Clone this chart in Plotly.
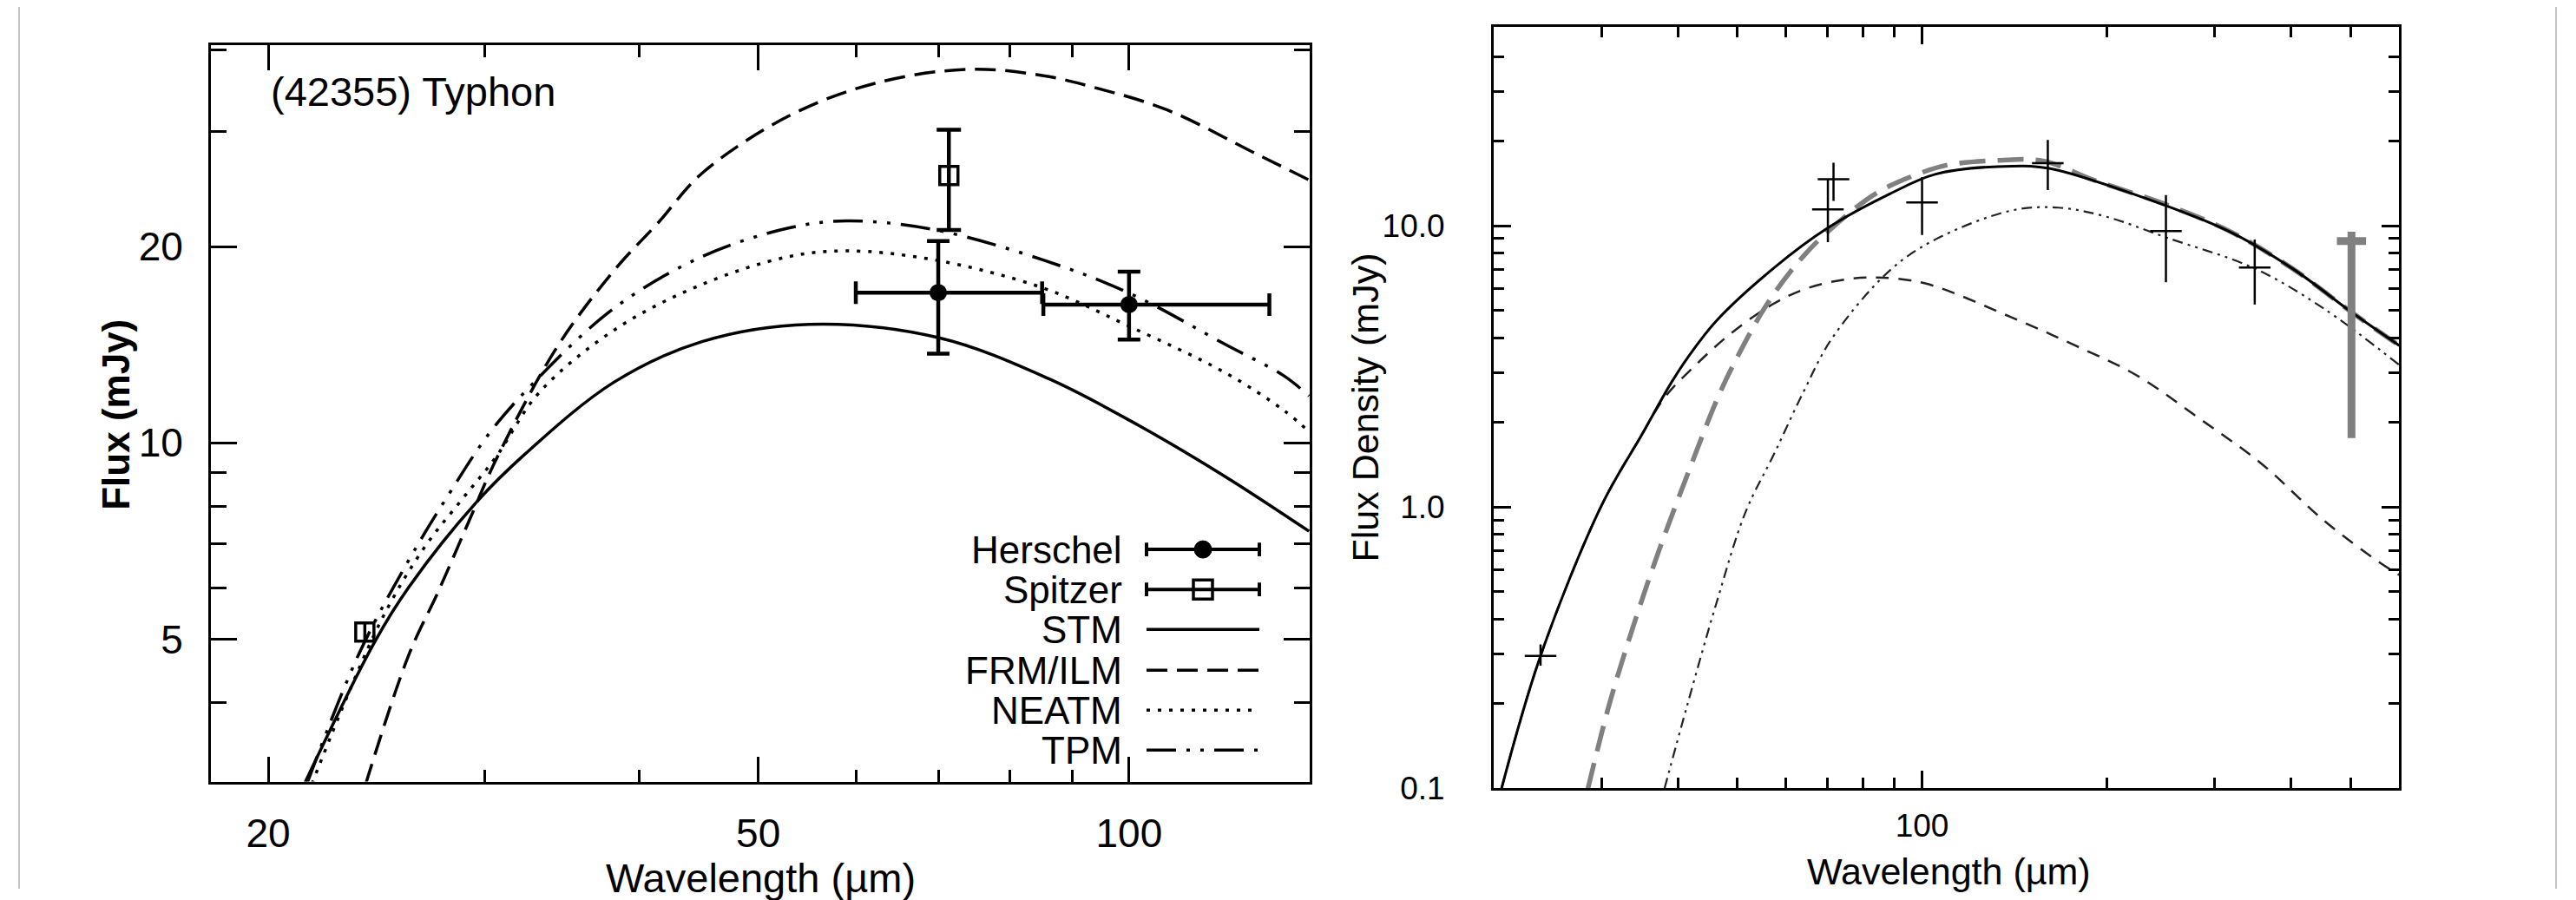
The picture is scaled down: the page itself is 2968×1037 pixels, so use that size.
import plotly.graph_objects as go

W, H = 2968, 1037
FONT = "Liberation Sans, Arial, Helvetica, sans-serif"

# ---------------- Left panel: (42355) Typhon ----------------
stm_wl = [21.4, 24.4, 26.0, 29.5, 32.3, 38.2, 45.0, 55.0, 70.0, 86.0, 101.7, 119.8, 140.0]
stm_f = [3.0, 4.95, 6.0, 8.1, 9.6, 12.4, 14.3, 15.2, 14.5, 12.55, 10.65, 8.87, 7.32]

frm_wl = [24.0, 26.0, 27.5, 29.2, 30.6, 34.3, 38.2, 41.5, 45.0, 52.9, 62.2, 74.0, 85.0, 93.6, 107.4, 126.6, 140.0]
frm_f = [3.0, 4.72, 5.93, 7.69, 9.4, 14.0, 18.4, 21.8, 25.9, 31.7, 35.6, 37.4, 36.6, 35.1, 32.4, 27.8, 25.3]

neatm_wl = [21.7, 24.65, 26.75, 28.7, 30.6, 33.2, 38.2, 45.0, 52.9, 59.0, 69.3, 85.0, 100.0, 119.8, 133.7, 140.0]
neatm_f = [3.0, 5.3, 6.89, 8.17, 9.5, 11.95, 14.9, 17.5, 19.3, 19.7, 19.1, 17.3, 15.1, 12.8, 11.2, 10.4]

tpm_wl = [21.5, 23.7, 26.0, 28.1, 30.3, 32.9, 38.2, 45.0, 52.9, 59.0, 69.3, 85.0, 100.5, 119.8, 133.7, 140.0]
tpm_f = [3.0, 4.75, 6.6, 8.4, 10.4, 12.4, 16.1, 19.3, 21.35, 21.9, 21.25, 19.1, 16.9, 14.15, 12.66, 11.8]

herschel_wl = [70.0, 100.0]
herschel_f = [17.0, 16.3]
herschel_f_plus = [3.4, 2.0]
herschel_f_minus = [3.3, 1.9]
herschel_wl_plus = [15.0, 30.0]
herschel_wl_minus = [10.0, 14.8]

spitzer_wl = [23.96, 71.4]
spitzer_f = [5.13, 25.7]
spitzer_f_err = [0.15, 4.5]

left_xticks = [20, 50, 100]
left_xminor = [30, 40, 60, 70, 80, 90]
left_yticks = [5, 10, 20]
left_yminor = [4, 6, 7, 8, 9, 30, 40]

# ---------------- Right panel ----------------
tot_wl = [20.6, 23.85, 29.97, 34.9, 38.9, 41.45, 46.2, 57.4, 70.2, 88.6, 105.3, 140.2, 161.3, 223.9, 318.0, 402.0, 508.0, 601.0]
tot_f = [0.1, 0.296, 1.01, 1.81, 2.75, 3.4, 4.6, 7.1, 9.83, 12.98, 15.27, 16.3, 16.0, 12.85, 9.52, 7.05, 4.84, 3.75]

gray_wl = [28.5, 30.9, 33.75, 37.2, 41.45, 46.2, 49.3, 56.2, 64.0, 71.3, 84.4, 99.8, 110.9, 133.8, 157.6, 190.3, 250.0, 318.0, 402.0, 508.0, 601.0]
gray_f = [0.1, 0.2, 0.374, 0.699, 1.31, 2.39, 3.23, 5.38, 7.79, 9.83, 13.1, 15.45, 16.5, 17.1, 17.0, 14.56, 11.9, 9.55, 7.05, 4.84, 3.75]

thin_wl = [20.6, 23.85, 29.97, 34.9, 38.0, 42.4, 48.8, 57.4, 65.0, 75.0, 84.4, 100.9, 140.2, 177.0, 224.0, 283.0, 357.5, 451.0, 557.0, 601.0]
thin_f = [0.1, 0.296, 1.01, 1.81, 2.45, 3.15, 4.15, 5.3, 6.0, 6.45, 6.55, 6.25, 4.72, 3.77, 2.94, 2.07, 1.43, 0.902, 0.637, 0.574]

ddd_wl = [38.0, 41.45, 46.2, 51.5, 57.4, 64.0, 71.3, 88.6, 105.3, 140.2, 167.0, 199.0, 251.8, 349.0, 451.0, 601.0]
ddd_f = [0.1, 0.2, 0.457, 0.958, 1.55, 2.56, 3.98, 6.94, 8.96, 11.34, 11.6, 10.8, 9.05, 7.05, 5.1, 3.2]

pts_wl = [23.85, 70.2, 71.7, 100.0, 160.4, 250.0, 349.0]
pts_f = [0.296, 11.43, 14.64, 12.11, 16.7, 9.57, 7.1]
pts_plus = [0.029, 3.15, 2.11, 2.79, 3.5, 3.28, 1.84]
pts_minus = [0.023, 2.68, 2.39, 2.84, 3.3, 3.27, 1.85]

ul_wl = [502.0]
ul_low = [1.76]
ul_high = [9.52]
ul_cap = [8.83]

right_xticks = [100]
right_xminor = [30, 40, 50, 60, 70, 80, 90, 200, 300, 400, 500]
right_yticks = [0.1, 1.0, 10.0]
right_yticklabels = ["0.1", "1.0", "10.0"]
right_yminor = [0.2, 0.3, 0.4, 0.5, 0.6, 0.7, 0.8, 0.9, 2, 3, 4, 5, 6, 7, 8, 9, 20, 30, 40]


def px(x):
    return x / W


def py(y):
    return 1 - y / H


fig = go.Figure()

# ---- left curves
def lcurve(xs, ys, dash):
    fig.add_trace(go.Scatter(x=xs, y=ys, mode="lines", xaxis="x", yaxis="y", showlegend=False,
                             line=dict(color="black", width=3.5, dash=dash, shape="spline", smoothing=1.0)))

lcurve(stm_wl, stm_f, "solid")
lcurve(frm_wl, frm_f, "24px,11px")
lcurve(neatm_wl, neatm_f, "4px,9px")
lcurve(tpm_wl, tpm_f, "34px,12px,4px,12px,4px,12px")

fig.add_trace(go.Scatter(
    x=herschel_wl, y=herschel_f, mode="markers", xaxis="x", yaxis="y", showlegend=False,
    marker=dict(symbol="circle", size=20, color="black"),
    error_y=dict(type="data", symmetric=False, array=herschel_f_plus, arrayminus=herschel_f_minus,
                 color="black", thickness=4.5, width=13),
    error_x=dict(type="data", symmetric=False, array=herschel_wl_plus, arrayminus=herschel_wl_minus,
                 color="black", thickness=4.5, width=13)))

fig.add_trace(go.Scatter(
    x=spitzer_wl[1:], y=spitzer_f[1:], mode="markers", xaxis="x", yaxis="y", showlegend=False,
    marker=dict(symbol="square-open", size=21, color="black", line=dict(width=3.5, color="black")),
    error_y=dict(type="data", array=spitzer_f_err[1:], color="black", thickness=4.5, width=14)))
fig.add_trace(go.Scatter(
    x=spitzer_wl[:1], y=spitzer_f[:1], mode="markers", xaxis="x", yaxis="y", showlegend=False,
    marker=dict(symbol="square-open", size=21, color="black", line=dict(width=3.5, color="black")),
    error_y=dict(type="data", array=spitzer_f_err[:1], color="black", thickness=3.5, width=0)))

# ---- right curves
def rcurve(xs, ys, color, width, dash):
    fig.add_trace(go.Scatter(x=xs, y=ys, mode="lines", xaxis="x2", yaxis="y2", showlegend=False,
                             line=dict(color=color, width=width, dash=dash, shape="spline", smoothing=1.0)))

rcurve(thin_wl, thin_f, "#222222", 2.5, "15px,11px")
rcurve(ddd_wl, ddd_f, "#222222", 2.2, "12px,6px,3px,6px,3px,6px")
rcurve(gray_wl, gray_f, "#808080", 5.5, "30px,14px")
rcurve(tot_wl, tot_f, "black", 3, "solid")

fig.add_trace(go.Scatter(
    x=pts_wl, y=pts_f, mode="markers", xaxis="x2", yaxis="y2", showlegend=False,
    marker=dict(symbol="line-ew", size=26, color="black", line=dict(width=2.5, color="black")),
    error_y=dict(type="data", symmetric=False, array=pts_plus, arrayminus=pts_minus,
                 color="black", thickness=2.5, width=0)))

fig.add_trace(go.Scatter(x=[ul_wl[0], ul_wl[0]], y=[ul_low[0], ul_high[0]], mode="lines",
                         xaxis="x2", yaxis="y2", showlegend=False,
                         line=dict(color="#808080", width=9)))
fig.add_trace(go.Scatter(x=ul_wl, y=ul_cap, mode="markers", xaxis="x2", yaxis="y2", showlegend=False,
                         marker=dict(symbol="line-ew", size=24, color="#808080",
                                     line=dict(width=9, color="#808080"))))

# ---- axes
def axis_common():
    return dict(showline=True, linecolor="black", mirror="ticks", ticks="inside",
                tickcolor="black", showgrid=False, zeroline=False)

fig.update_layout(
    width=W, height=H, autosize=False,
    margin=dict(l=0, r=0, t=0, b=0),
    paper_bgcolor="white", plot_bgcolor="white",
    xaxis=dict(type="log", range=[1.2545, 2.1467], domain=[px(235), px(1501)], anchor="y",
               linewidth=3, ticklen=29, tickwidth=3,
               tickvals=left_xticks, ticktext=[str(v) for v in left_xticks],
               tickfont=dict(family=FONT, size=46, color="black"), ticklabelstandoff=17,
               minor=dict(tickvals=left_xminor, ticks="inside", ticklen=14, tickwidth=3,
                          tickcolor="black", showgrid=False),
               **axis_common()),
    yaxis=dict(type="log", range=[0.4807, 1.6098], domain=[py(911), py(45)], anchor="x",
               linewidth=3, ticklen=30, tickwidth=3,
               tickvals=left_yticks, ticktext=[str(v) for v in left_yticks],
               tickfont=dict(family=FONT, size=46, color="black"), ticklabelstandoff=20,
               minor=dict(tickvals=left_yminor, ticks="inside", ticklen=18, tickwidth=3,
                          tickcolor="black", showgrid=False),
               **axis_common()),
    xaxis2=dict(type="log", range=[1.30103, 2.77815], domain=[px(1713), px(2756)], anchor="y2",
                linewidth=3, ticklen=20, tickwidth=2.5,
                tickvals=right_xticks, ticktext=[str(v) for v in right_xticks],
                tickfont=dict(family=FONT, size=37, color="black"), ticklabelstandoff=8,
                minor=dict(tickvals=right_xminor, ticks="inside", ticklen=12, tickwidth=2.5,
                           tickcolor="black", showgrid=False),
                **axis_common()),
    yaxis2=dict(type="log", range=[-1.0, 1.7085], domain=[py(919), py(23)], anchor="x2",
                linewidth=3, ticklen=20, tickwidth=2.5,
                tickvals=right_yticks, ticktext=right_yticklabels,
                tickfont=dict(family=FONT, size=37, color="black"), ticklabelstandoff=46,
                minor=dict(tickvals=right_yminor, ticks="inside", ticklen=12, tickwidth=2.5,
                           tickcolor="black", showgrid=False),
                **axis_common()),
)

ann = []
ann.append(dict(text="<b>Flux (mJy)</b>", x=px(99), y=py(480), xref="paper", yref="paper",
                showarrow=False, textangle=-90, font=dict(family=FONT, size=44, color="black")))
ann.append(dict(text="Wavelength (µm)", x=px(868), y=py(1024), xref="paper", yref="paper",
                showarrow=False, xanchor="center", yanchor="middle",
                font=dict(family=FONT, size=47, color="black")))
ann.append(dict(text="(42355) Typhon", x=px(302), y=py(100), xref="paper", yref="paper",
                showarrow=False, xanchor="left", yanchor="middle",
                font=dict(family=FONT, size=47, color="black")))
ann.append(dict(text="Flux Density (mJy)", x=px(1565), y=py(471), xref="paper", yref="paper",
                showarrow=False, textangle=-90, font=dict(family=FONT, size=43, color="black")))
ann.append(dict(text="Wavelength (µm)", x=px(2237), y=py(1017), xref="paper", yref="paper",
                showarrow=False, xanchor="center", yanchor="middle",
                font=dict(family=FONT, size=43, color="black")))

# ---- hand-drawn legend (text on the left, sample on the right)
leg_names = ["Herschel", "Spitzer", "STM", "FRM/ILM", "NEATM", "TPM"]
leg_rows = [638, 685, 732, 780, 827, 874]
leg_dash = [None, None, "solid", "24px,11px", "4px,9px", "34px,12px,4px,12px,4px,12px"]
shapes = []
for name, yy, dash in zip(leg_names, leg_rows, leg_dash):
    ann.append(dict(text=name, x=px(1287), y=py(yy), xref="paper", yref="paper", showarrow=False,
                    xanchor="right", yanchor="middle", font=dict(family=FONT, size=44, color="black")))
    if dash is None:
        shapes.append(dict(type="line", xref="paper", yref="paper", x0=px(1313), x1=px(1443),
                           y0=py(yy), y1=py(yy), line=dict(color="black", width=4)))
        for xc in (1313, 1443):
            shapes.append(dict(type="line", xref="paper", yref="paper", x0=px(xc), x1=px(xc),
                               y0=py(yy - 8), y1=py(yy + 8), line=dict(color="black", width=4)))
    else:
        shapes.append(dict(type="line", xref="paper", yref="paper", x0=px(1313), x1=px(1443),
                           y0=py(yy), y1=py(yy), line=dict(color="black", width=3.5, dash=dash)))

shapes.append(dict(type="circle", xref="paper", yref="paper", xsizemode="pixel", ysizemode="pixel",
                   xanchor=px(1378), yanchor=py(leg_rows[0]), x0=-10, x1=10, y0=-10, y1=10,
                   fillcolor="black", line=dict(color="black", width=1)))
shapes.append(dict(type="rect", xref="paper", yref="paper", xsizemode="pixel", ysizemode="pixel",
                   xanchor=px(1378), yanchor=py(leg_rows[1]), x0=-11, x1=11, y0=-11, y1=11,
                   fillcolor="rgba(0,0,0,0)", line=dict(color="black", width=3.5)))

# thin page borders of the scanned figure
for xb in (14, 2937):
    shapes.append(dict(type="line", xref="paper", yref="paper", x0=px(xb), x1=px(xb), y0=0, y1=1,
                       line=dict(color="#c4c4c4", width=2)))

fig.update_layout(annotations=ann, shapes=shapes)

fig.write_html("out.html")
